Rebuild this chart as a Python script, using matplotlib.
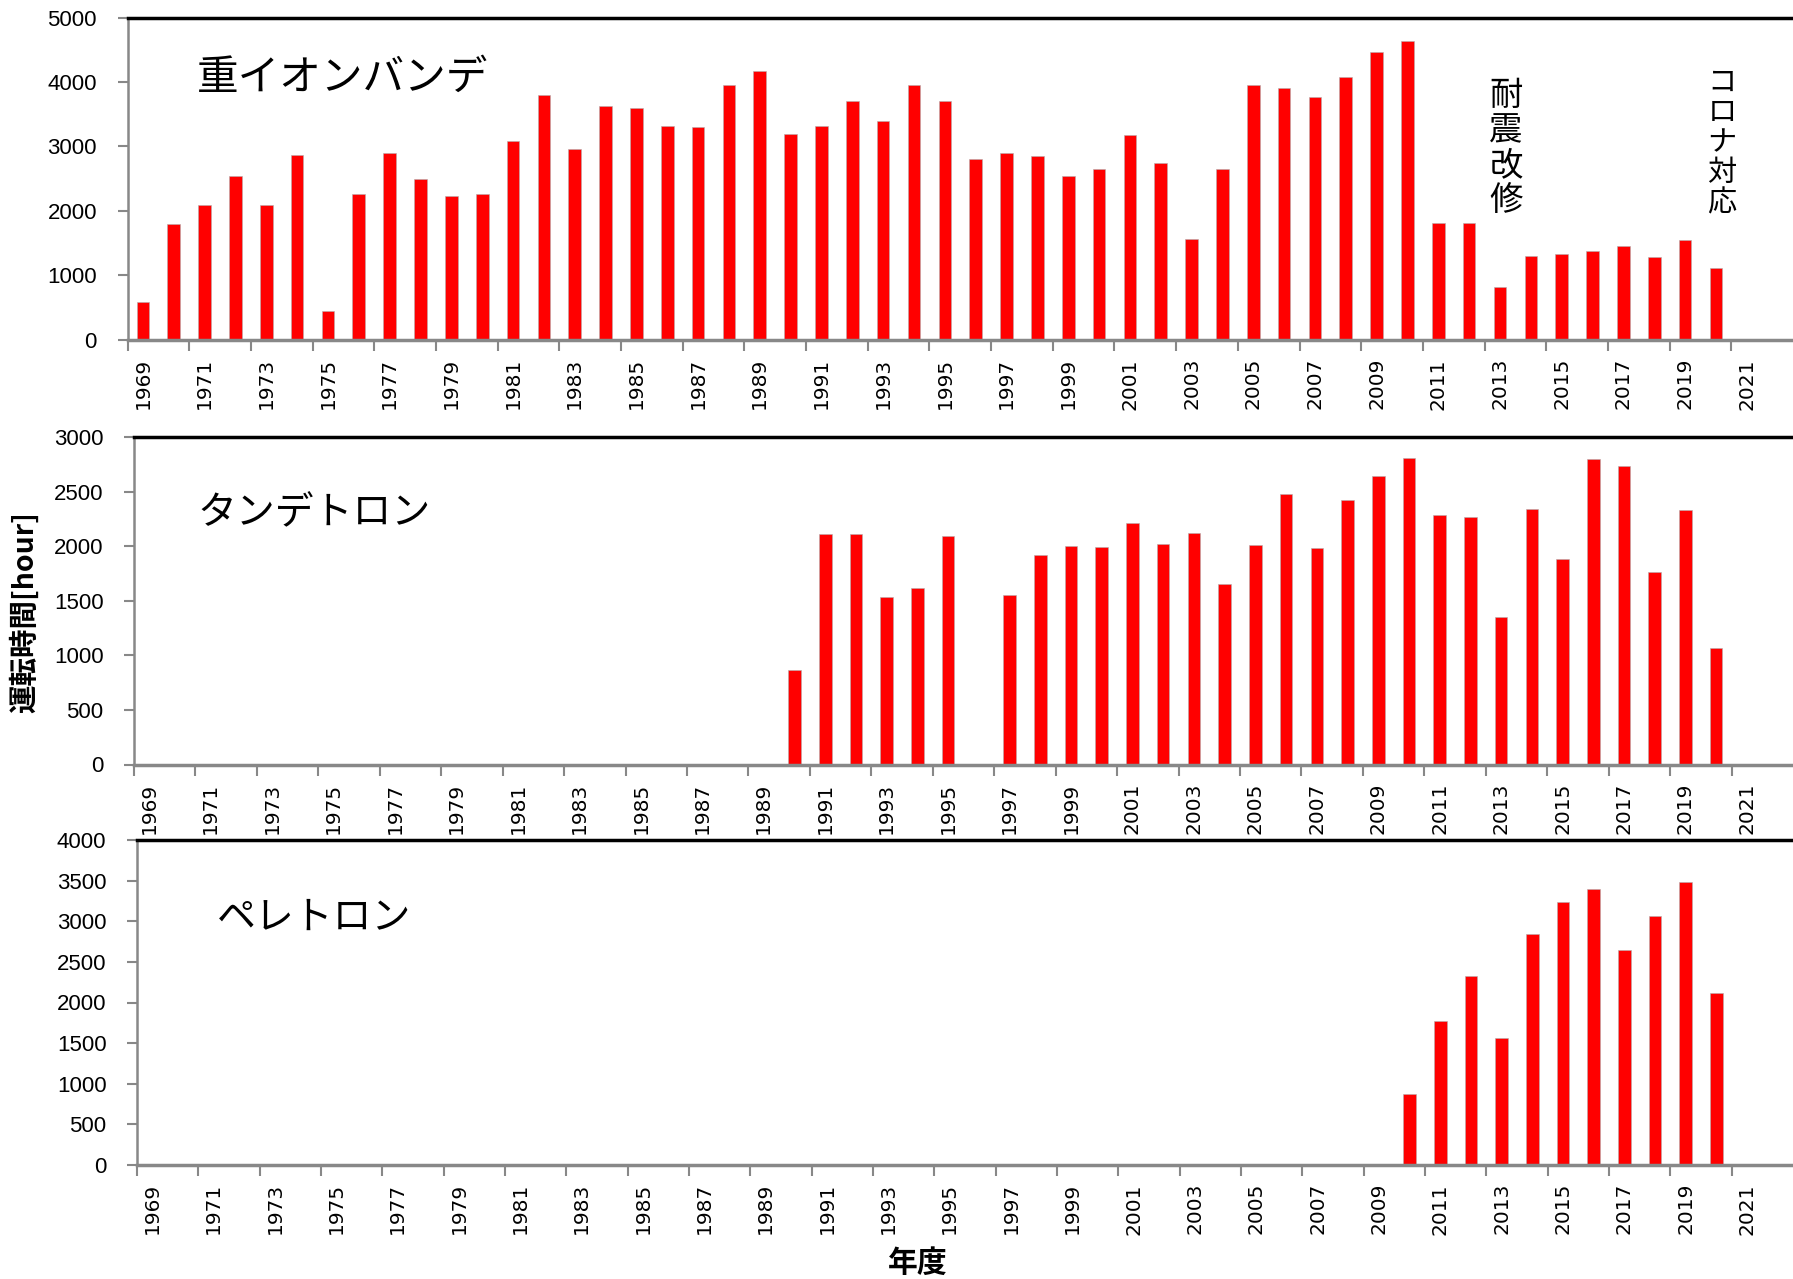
import numpy as np
import matplotlib.pyplot as plt
from matplotlib import font_manager

# 運転時間の推移 (年度別)
years = list(range(1969, 2023))

# 重イオンバンデ 1969-2020
hib_start = 1969
hib_hours = [590, 1800, 2090, 2540, 2090, 2870, 450, 2260, 2900, 2500,
             2240, 2260, 3090, 3800, 2960, 3630, 3600, 3320, 3300, 3950,
             4170, 3200, 3320, 3700, 3390, 3950, 3700, 2800, 2900, 2860,
             2540, 2650, 3180, 2750, 1570, 2650, 3950, 3900, 3770, 4080,
             4470, 4630, 1820, 1820, 820, 1310, 1340, 1380, 1460, 1290,
             1550, 1120]

# タンデトロン 1990-2020 (1996は運転なし)
tan_start = 1990
tan_hours = [870, 2110, 2110, 1530, 1620, 2090, 0, 1550, 1920, 2000,
             1990, 2210, 2020, 2120, 1650, 2010, 2480, 1980, 2420, 2640,
             2810, 2290, 2270, 1350, 2340, 1880, 2800, 2730, 1760, 2330,
             1070]

# ペレトロン 2010-2020
pel_start = 2010
pel_hours = [880, 1770, 2330, 1560, 2840, 3240, 3400, 2650, 3070, 3480, 2120]

names = ["重イオンバンデ", "タンデトロン", "ペレトロン"]
name_sizes = [30, 28, 28]
ymax = [5000, 3000, 4000]
ystep = [1000, 500, 500]

installed = {f.name for f in font_manager.fontManager.ttflist}
xfont = "DejaVu Sans Condensed" if "DejaVu Sans Condensed" in installed else "DejaVu Sans"
xsize = 15.4 if xfont == "DejaVu Sans Condensed" else 14.5
jp = ["Noto Sans CJK JP", "DejaVu Sans"]

W, H = 1793, 1279
fig = plt.figure(figsize=(W / 100, H / 100), dpi=100)

# left, top, bottom in pixels
boxes = [(127.5, 17.5, 340), (134, 437, 764.5), (137, 840, 1165)]
titles_xy = [(197, 78), (197, 513), (217, 918)]


def full_series(start, vals):
    out = np.zeros(len(years))
    i0 = years.index(start)
    out[i0:i0 + len(vals)] = vals
    return out


series = [full_series(hib_start, hib_hours),
          full_series(tan_start, tan_hours),
          full_series(pel_start, pel_hours)]

for k, (l, t, b) in enumerate(boxes):
    ax = fig.add_axes([l / W, 1 - b / H, (W - l) / W, (b - t) / H])
    x = np.arange(len(years))
    ax.bar(x, series[k], width=0.41, color="#ff0000", edgecolor="#b0b0b0",
           linewidth=0.4)
    ax.set_xlim(-0.5, len(years) - 0.5)
    ax.set_ylim(0, ymax[k])
    ax.set_yticks(np.arange(0, ymax[k] + 1, ystep[k]))
    for lab in ax.get_yticklabels():
        lab.set_family("Liberation Sans")
    ax.tick_params(axis="y", direction="out", length=7, width=1.5,
                   color="#888888", labelsize=16, pad=15)

    # labels on odd years, tick marks on category boundaries
    ax.set_xticks(x[::2])
    ax.set_xticklabels([str(y) for y in years[::2]], rotation=90,
                       family=xfont, fontsize=xsize)
    ax.set_xticks(np.arange(-0.5, 52, 2), minor=True)
    ax.tick_params(axis="x", which="major", length=0, pad=13)
    ax.tick_params(axis="x", which="minor", direction="out", length=8,
                   width=1.5, color="#888888")

    ax.spines["right"].set_visible(False)
    ax.spines["left"].set_color("#888888")
    ax.spines["left"].set_linewidth(1.8)
    ax.spines["bottom"].set_color("#888888")
    ax.spines["bottom"].set_linewidth(2.5)
    ax.spines["top"].set_color("black")
    ax.spines["top"].set_linewidth(2.5)

    tx, ty = titles_xy[k]
    fig.text(tx / W, 1 - ty / H, names[k], family=jp, fontsize=name_sizes[k],
             va="center", ha="left")

# 注記 (縦書き)
fig.text(1506 / W, 1 - 148 / H, "\n".join("耐震改修"), family=jp,
         fontsize=24, ha="center", va="center", linespacing=1.0)
fig.text(1722 / W, 1 - 143 / H, "\n".join("コロナ対応"), family=jp,
         fontsize=21, ha="center", va="center", linespacing=1.0)

fig.text(24 / W, 1 - 612 / H, "運転時間[hour]", family=jp, fontsize=20.5,
         fontweight="bold", rotation=90, ha="center", va="center")
fig.text(918 / W, 1 - 1263 / H, "年度", family=jp, fontsize=21.5,
         fontweight="bold", ha="center", va="center")

fig.savefig("out.png", dpi=100, facecolor="white")
